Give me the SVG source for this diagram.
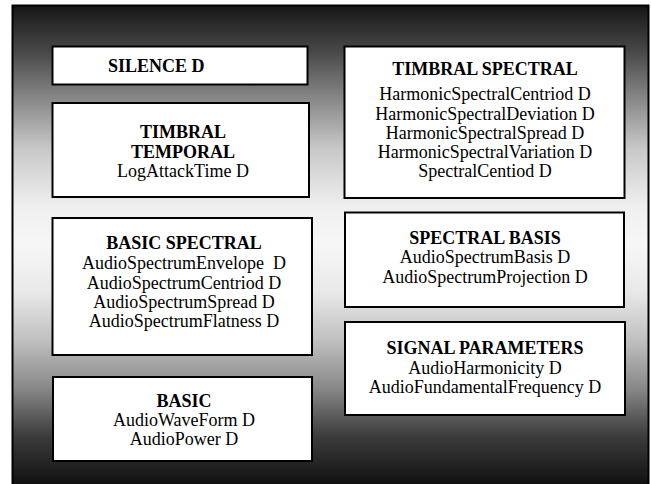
<svg xmlns="http://www.w3.org/2000/svg" width="651" height="484" viewBox="0 0 651 484">
<defs>
<linearGradient id="bg" x1="0" y1="5" x2="0" y2="484" gradientUnits="userSpaceOnUse">
<stop offset="0" stop-color="#151515"/>
<stop offset="0.1" stop-color="#4a4a4a"/>
<stop offset="0.2" stop-color="#8a8a8a"/>
<stop offset="0.3" stop-color="#c8c8c8"/>
<stop offset="0.42" stop-color="#efefef"/>
<stop offset="0.5" stop-color="#f7f7f7"/>
<stop offset="0.6" stop-color="#e8e8e8"/>
<stop offset="0.7" stop-color="#c0c0c0"/>
<stop offset="0.8" stop-color="#888888"/>
<stop offset="0.9" stop-color="#3c3c3c"/>
<stop offset="1" stop-color="#111111"/>
</linearGradient>
</defs>
<style>
.box{fill:#ffffff;stroke:#000000;stroke-width:2}
text{font-family:"Liberation Serif","Times New Roman",serif;font-size:18px;fill:#000000;text-anchor:middle}
.t{font-weight:bold}
</style>
<rect x="0" y="0" width="651" height="484" fill="#ffffff"/>
<rect x="12.5" y="5.5" width="636" height="480" fill="url(#bg)" stroke="#000000" stroke-width="2"/>
<g id="silence">
<rect class="box" x="52.5" y="46.5" width="255" height="38"/>
<text class="t" x="108" y="72" style="text-anchor:start">SILENCE D</text>
</g>
<g id="timbral-temporal">
<rect class="box" x="52.5" y="103" width="256.5" height="94"/>
<text class="t" x="183" y="138">TIMBRAL</text>
<text class="t" x="183" y="158">TEMPORAL</text>
<text x="183" y="177">LogAttackTime D</text>
</g>
<g id="basic-spectral">
<rect class="box" x="52.5" y="218" width="259.5" height="137"/>
<text class="t" x="184" y="249">BASIC SPECTRAL</text>
<text x="184" y="269">AudioSpectrumEnvelope&#160; D</text>
<text x="184" y="288.5">AudioSpectrumCentriod D</text>
<text x="184" y="308">AudioSpectrumSpread D</text>
<text x="184" y="327">AudioSpectrumFlatness D</text>
</g>
<g id="basic">
<rect class="box" x="53" y="377" width="259" height="84"/>
<text class="t" x="184" y="407">BASIC</text>
<text x="184" y="426">AudioWaveForm D</text>
<text x="184" y="445">AudioPower D</text>
</g>
<g id="timbral-spectral">
<rect class="box" x="344.5" y="46.5" width="280" height="151.5"/>
<text class="t" x="485" y="75">TIMBRAL SPECTRAL</text>
<text x="485" y="100">HarmonicSpectralCentriod D</text>
<text x="485" y="119.5">HarmonicSpectralDeviation D</text>
<text x="485" y="138.5">HarmonicSpectralSpread D</text>
<text x="485" y="157.5">HarmonicSpectralVariation D</text>
<text x="485" y="177">SpectralCentiod D</text>
</g>
<g id="spectral-basis">
<rect class="box" x="345" y="212.5" width="279" height="94.5"/>
<text class="t" x="485" y="244">SPECTRAL BASIS</text>
<text x="485" y="263">AudioSpectrumBasis D</text>
<text x="485" y="282.5">AudioSpectrumProjection D</text>
</g>
<g id="signal-parameters">
<rect class="box" x="345" y="322" width="280" height="93"/>
<text class="t" x="485" y="354">SIGNAL PARAMETERS</text>
<text x="485" y="373.5">AudioHarmonicity D</text>
<text x="485" y="393">AudioFundamentalFrequency D</text>
</g>
<g id="connectors"></g>
</svg>
